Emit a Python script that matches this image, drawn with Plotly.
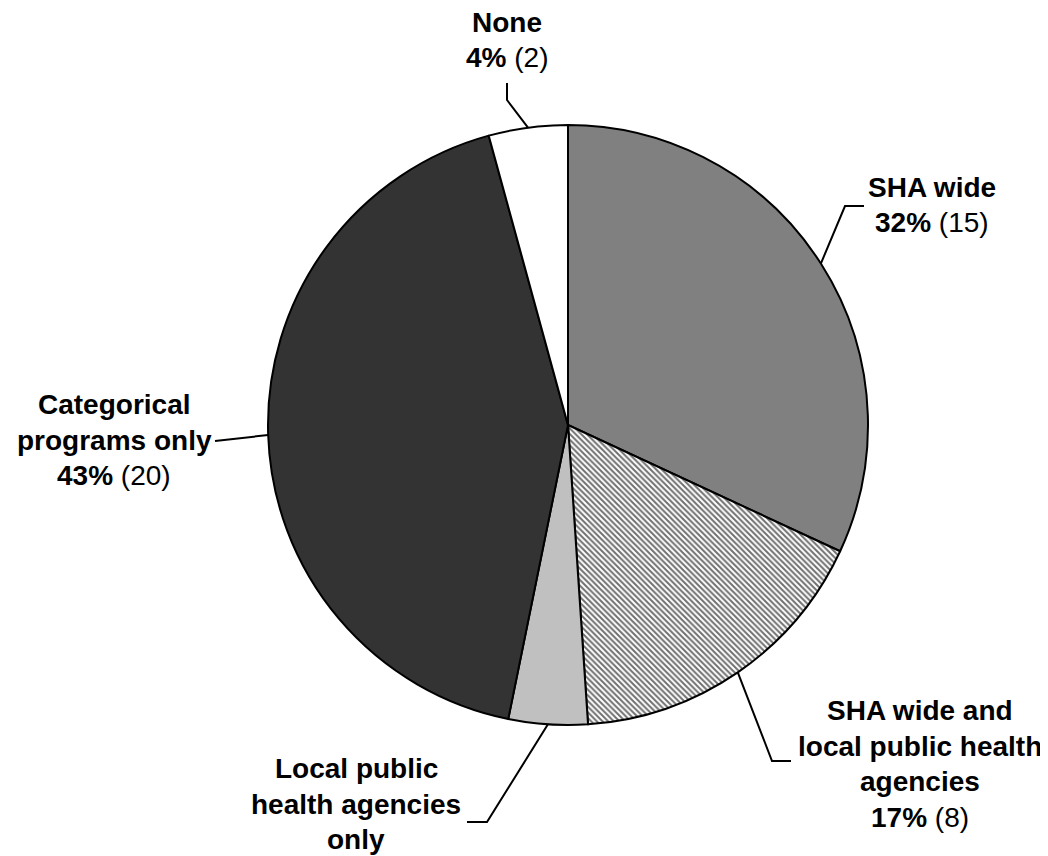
import math
import plotly.graph_objects as go

# ---- data ----
categories = ["SHA wide", "SHA wide and local public health agencies",
              "Local public health agencies only", "Categorical programs only", "None"]
counts = [15, 8, 2, 20, 2]
label_lines = [
    ["SHA wide"],
    ["SHA wide and", "local public health", "agencies"],
    ["Local public", "health agencies", "only"],
    ["Categorical", "programs only"],
    ["None"],
]
show_value = [True, True, False, True, True]
slice_colors = ["#808080", "#ffffff", "#c0c0c0", "#333333", "#ffffff"]
slice_patterns = ["", "\\", "", "", ""]

# ---- layout geometry (screen pixels; page body has an 8px margin) ----
OFF = 8
W, H = 1040, 848
CX, CY, R = 568, 425, 300
FONT = "Liberation Sans, Arial, sans-serif"
FS = 28
LS = 35.5  # line spacing of label text

# label block centres and leader elbows (pixel positions of the text layout)
label_pos = [(932, 205), (920, 764), (356, 804), (114, 440), (507, 40)]
leader_elbow = [
    [(845, 206), (864, 206)],
    [(772, 761), (791, 761)],
    [(487, 822), (467, 822)],
    [(215, 441)],
    [(507, 100), (507, 83)],
]


def px(x, y):
    return (x - OFF) / W, 1 - (y - OFF) / H


total = sum(counts)
fig = go.Figure()
x0, y1 = px(CX - R, CY - R)
x1, y0 = px(CX + R, CY + R)
fig.add_trace(go.Pie(
    values=counts,
    labels=categories,
    sort=False,
    direction="clockwise",
    rotation=0,
    textinfo="none",
    hoverinfo="label+value+percent",
    showlegend=False,
    marker=dict(
        colors=slice_colors,
        line=dict(color="#000000", width=2),
        pattern=dict(shape=slice_patterns, fgcolor="#707070", bgcolor="#ffffff",
                     size=4, solidity=0.5),
    ),
    domain=dict(x=[x0, x1], y=[y0, y1]),
))

annotations = []
shapes = []
cum = 0
for i, v in enumerate(counts):
    mid = (cum + v / 2) / total * 2 * math.pi
    cum += v
    sx = CX + R * math.sin(mid)
    sy = CY - R * math.cos(mid)
    pts = [(sx, sy)] + leader_elbow[i]
    path = "M " + " L ".join(f"{px(x, y)[0]:.5f},{px(x, y)[1]:.5f}" for x, y in pts)
    shapes.append(dict(type="path", xref="paper", yref="paper", path=path,
                       line=dict(color="#000000", width=2)))
    lines = [f"<b>{t}</b>" for t in label_lines[i]]
    if show_value[i]:
        pct = round(v / total * 100)
        lines.append(f"<b>{pct}%</b> ({v})")
    bx, by = label_pos[i]
    n = len(lines)
    for k, line in enumerate(lines):
        ly = by + (k - (n - 1) / 2) * LS
        ax, ay = px(bx, ly)
        annotations.append(dict(
            x=ax, y=ay, xref="paper", yref="paper", xanchor="center", yanchor="middle",
            text=line, showarrow=False, align="center", borderpad=0,
            font=dict(family=FONT, size=FS, color="#000000"),
        ))

fig.update_layout(
    width=W, height=H,
    margin=dict(l=0, r=0, t=0, b=0),
    paper_bgcolor="#ffffff", plot_bgcolor="#ffffff",
    annotations=annotations, shapes=shapes,
)
fig.write_html("out.html")
